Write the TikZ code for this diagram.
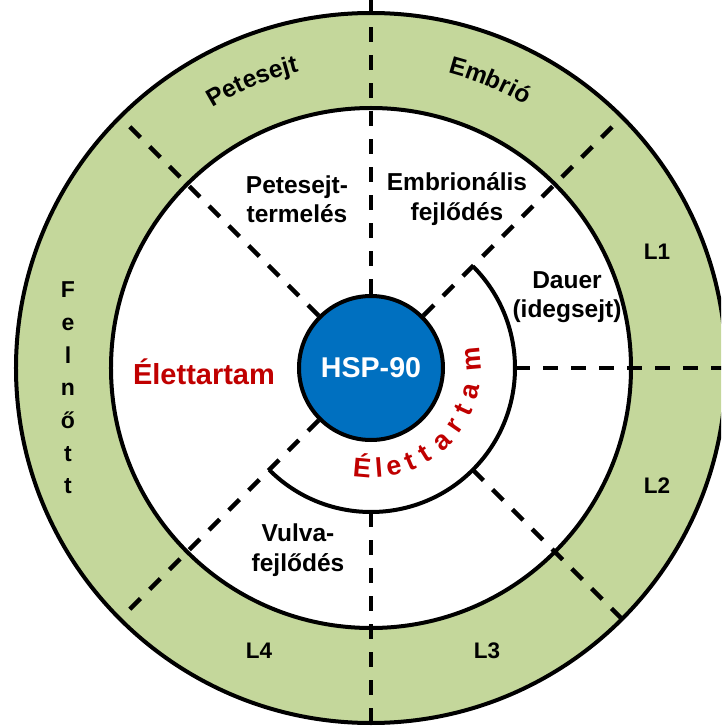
\documentclass[tikz,border=0pt]{standalone}
\usepackage{fontspec}
\setmainfont{Liberation Sans}
\usepackage{xcolor}
\definecolor{hsGreen}{RGB}{196,215,155}
\definecolor{hsBlue}{RGB}{0,112,192}
\definecolor{hsRed}{RGB}{192,0,0}
\definecolor{hsInk}{RGB}{0,0,0}
\usepackage{tikz}
\usetikzlibrary{positioning,decorations.text}
\newcommand{\lblfont}{\fontsize{24.5}{29.5}\selectfont\bfseries}
\newcommand{\stagefont}{\fontsize{22.5}{27}\selectfont\bfseries}
\tikzset{
  hs-ring/.style={draw=hsInk,line width=4pt},
  hs-sep/.style={draw=hsInk,line width=4.5pt,dash pattern=on 15pt off 13pt},
  hs-core/.style={circle,draw=hsInk,line width=4pt,fill=hsBlue,minimum size=144pt,
    inner sep=0pt,text=white,font=\fontsize{28.6}{30}\selectfont\bfseries},
  hs-lbl/.style={align=center,text=hsInk,font=\lblfont,inner sep=1pt},
  hs-stage/.style={text=hsInk,font=\stagefont,inner sep=1pt},
  hs-life/.style={text=hsRed,font=\fontsize{29}{30}\selectfont\bfseries,inner sep=1pt},
  hs-letter/.style={text=hsRed,font=\fontsize{27}{27}\selectfont\bfseries,anchor=base,inner sep=0pt},
}

\begin{document}
\begin{tikzpicture}[x=1pt,y=1pt]
  \useasboundingbox (-371,-358) rectangle (350,368);
  \clip (-371,-358) rectangle (350,368);
  \fill[white] (-371,-358) rectangle (350,368);

  % rings
  \draw[hs-ring,fill=hsGreen] (0,0) circle[radius=355];
  \draw[hs-ring,fill=white] (0,0) circle[radius=260];

  % core
  \node[hs-core] (hsp) at (0,0) {HSP-90};

  % points on the inner arc and on the rim
  \coordinate (arcE) at (0:144);
  \coordinate (arcSE) at (-45:144);
  \coordinate (arcS) at (-90:144);
  \coordinate (rimN) at (90:370);
  \coordinate (rimNE) at (45:355);
  \coordinate (rimNW) at (135:355);
  \coordinate (rimE) at (0:355);
  \coordinate (rimSE) at (-45:355);
  \coordinate (rimS) at (-90:362);
  \coordinate (rimSW) at (-135:355);

  % separators
  \draw[hs-sep] (hsp.90) -- (rimN);
  \draw[hs-sep] (hsp.45) -- (rimNE);
  \draw[hs-sep] (hsp.135) -- (rimNW);
  \draw[hs-sep] (hsp.-135) -- (rimSW);
  \draw[hs-sep] (arcE) -- (rimE);
  \draw[hs-sep] (arcSE) -- (rimSE);
  \draw[hs-sep] (arcS) -- (rimS);

  % lifespan arc
  \draw[hs-ring] (45:144) arc[start angle=45,end angle=-135,radius=144];

  % inner labels
  \node[hs-lbl] (oocyte) at (-74,169) {Petesejt-\\termelés};
  \node[hs-lbl] (embdev) at (86,169) {Embrionális\\fejlődés};
  \node[hs-lbl] (dauer) at (196,71) {Dauer\\(idegsejt)};
  \node[hs-lbl] (vulva) at (-73,-182) {Vulva-\\fejlődés};
  \node[hs-life] (life) at (-167,-4) {Élettartam};

  % curved lifespan label
  \foreach \ch/\ang [count=\i] in {É/-95,l/-85.5,e/-77,t/-67,t/-58,a/-46,r/-34.5,t/-24.5,a/-13,m/5}
    \node[hs-letter,rotate=\ang+90] (life\i) at (\ang:110) {\ch};

  % ring labels
  \node[hs-stage] (l1) at (286,116) {L1};
  \node[hs-stage] (l2) at (286,-118) {L2};
  \node[hs-stage] (l3) at (116,-283) {L3};
  \node[hs-stage] (l4) at (-112,-283) {L4};
  \node[hs-lbl,font=\fontsize{23}{32.7}\selectfont\bfseries] (adult) at (-303,-20) {F\\e\\l\\n\\ő\\t\\t};
  \path[decorate,decoration={text along path,text align=center,
    text={|\lblfont|Petesejt}}] (135:305) arc[start angle=135,end angle=90,radius=305];
  \path[decorate,decoration={text along path,text align=center,
    text={|\lblfont|Embrió}}] (90:305) arc[start angle=90,end angle=45,radius=305];
\end{tikzpicture}
\end{document}
